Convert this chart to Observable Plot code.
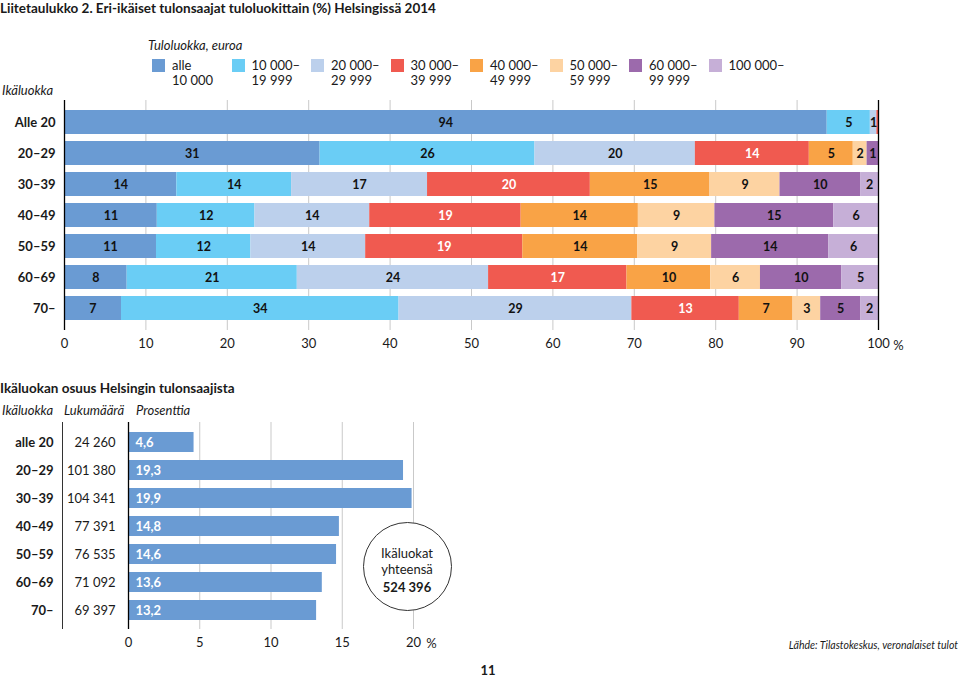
<!DOCTYPE html>
<html><head><meta charset="utf-8">
<script src="https://cdn.jsdelivr.net/npm/d3@7"></script>
<script src="https://cdn.jsdelivr.net/npm/@observablehq/plot@0.6"></script>
<style>
body{margin:0;background:#fff;font-family:Lato,"Open Sans",sans-serif;color:#1a1a1a}
#page{position:relative;width:960px;height:679px;overflow:hidden}
.abs{position:absolute;white-space:nowrap}
.plot{position:absolute;left:0}
</style></head><body><div id="page"></div>
<script>
// ---- Data: top chart ----
const titleText = "Liitetaulukko 2. Eri-ikäiset tulonsaajat tuloluokittain (%) Helsingissä 2014";
const ageGroups = ["Alle 20", "20–29", "30–39", "40–49", "50–59", "60–69", "70–"];
const incomeLine1 = ["alle", "10 000–", "20 000–", "30 000–", "40 000–", "50 000–", "60 000–", "100 000–"];
const incomeLine2 = ["10 000", "19 999", "29 999", "39 999", "49 999", "59 999", "99 999", ""];
const incomeColors = ["#6a9bd3", "#6acdf5", "#bcd0ec", "#f05a50", "#f9a346", "#fdd3a2", "#9c6aac", "#c6afd7"];
const sharesAlle20 = [93.7, 5.3, 0.8, 0.2, 0, 0, 0, 0];
const shares20_29  = [31.4, 26.4, 19.7, 14.0, 5.4, 1.7, 1.4, 0];
const shares30_39  = [13.8, 14.1, 16.7, 20.0, 14.7, 8.6, 9.9, 2.2];
const shares40_49  = [11.4, 12.0, 14.1, 18.6, 14.4, 9.4, 14.6, 5.5];
const shares50_59  = [11.3, 11.6, 14.1, 19.3, 14.1, 9.1, 14.4, 6.1];
const shares60_69  = [7.7, 20.9, 23.5, 17.0, 10.3, 6.1, 10.0, 4.6];
const shares70     = [7.0, 34.1, 28.6, 13.2, 6.6, 3.4, 4.9, 2.2];
const xTicksTop = [0, 10, 20, 30, 40, 50, 60, 70, 80, 90, 100];

// ---- Data: bottom chart ----
const lowerTitle = "Ikäluokan osuus Helsingin tulonsaajista";
const ageGroupsLower = ["alle 20", "20–29", "30–39", "40–49", "50–59", "60–69", "70–"];
const earnerCounts = [24260, 101380, 104341, 77391, 76535, 71092, 69397];
const earnerPercents = [4.6, 19.3, 19.9, 14.8, 14.6, 13.6, 13.2];
const xTicksBottom = [0, 5, 10, 15, 20];
const sourceText = "Lähde: Tilastokeskus, veronalaiset tulot";
const pageNumber = "11";

// ---- helpers ----
const loc = d3.formatLocale({decimal: ",", thousands: "\u00a0", grouping: [3], currency: ["", ""]});
const fmtInt = loc.format(",d");
const fmtDec = loc.format(".1f");
const page = document.getElementById("page");
function addText(txt, {x, y, size = 13, weight = "normal", italic = false, anchor = "start", color = "#1a1a1a", lh = null}) {
  const d = document.createElement("div");
  d.className = "abs";
  d.textContent = txt;
  const L = lh || Math.round(size * 1.25);
  d.style.fontSize = size + "px";
  d.style.lineHeight = L + "px";
  d.style.fontWeight = weight;
  d.style.fontStyle = italic ? "italic" : "normal";
  d.style.color = color;
  d.style.top = (y - L / 2) + "px";
  if (anchor === "start") d.style.left = x + "px";
  else if (anchor === "end") d.style.right = (960 - x) + "px";
  else { d.style.left = (x - 200) + "px"; d.style.width = "400px"; d.style.textAlign = "center"; }
  page.appendChild(d);
  return d;
}

// ---- Titles & legend ----
addText(titleText, {x: 0, y: 8, size: 13.5, weight: "bold"});
addText("Tuloluokka, euroa", {x: 148, y: 45, size: 13, italic: true});
addText("Ikäluokka", {x: 2, y: 90, size: 13, italic: true});
incomeLine1.forEach((t, i) => {
  const sx = 152 + 79.5 * i;
  const sw = document.createElement("div");
  sw.className = "abs";
  Object.assign(sw.style, {left: sx + "px", top: "59px", width: "13px", height: "13px", background: incomeColors[i]});
  page.appendChild(sw);
  addText(t, {x: sx + 20, y: 65, size: 13});
  if (incomeLine2[i]) addText(incomeLine2[i], {x: sx + 20, y: 80, size: 13});
});

// ---- Top chart ----
const shareRows = [sharesAlle20, shares20_29, shares30_39, shares40_49, shares50_59, shares60_69, shares70];
const segs = [];
ageGroups.forEach((age, i) => {
  let acc = 0;
  shareRows[i].forEach((v, j) => {
    segs.push({age, ci: j, cls: incomeLine1[j] + incomeLine2[j], value: v, x1: acc, x2: acc + v, label: Math.round(v)});
    acc += v;
  });
});
const labelled = segs.filter(d => d.label > 0);

const topChart = Plot.plot({
  width: 960, height: 270,
  marginLeft: 64, marginRight: 82, marginTop: 10, marginBottom: 30,
  style: {fontFamily: "Lato, 'Open Sans', sans-serif", fontSize: "13px", color: "#1a1a1a", background: "transparent"},
  x: {domain: [0, 100], label: null},
  y: {domain: ageGroups, padding: 0.24, label: null},
  color: {domain: segs.slice(0, 8).map(d => d.cls), range: incomeColors},
  marks: [
    Plot.gridX(xTicksTop.filter(t => t > 0 && t < 100), {stroke: "#c9c9c9", strokeOpacity: 1}),
    Plot.barX(segs.filter(d => d.value > 0), {x1: "x1", x2: "x2", y: "age", fill: "cls"}),
    Plot.text(labelled.filter(d => d.ci !== 3), {x: d => (d.x1 + d.x2) / 2, y: "age", text: "label", fill: "#111", fontWeight: "bold", fontSize: 12.5}),
    Plot.text(labelled.filter(d => d.ci === 3), {x: d => (d.x1 + d.x2) / 2, y: "age", text: "label", fill: "#fff", fontWeight: "bold", fontSize: 12.5}),
    Plot.ruleX([0, 100], {stroke: "#000", strokeWidth: 1.3}),
    Plot.axisX({ticks: xTicksTop, tickSize: 0, tickPadding: 8, fontSize: 13, label: null}),
    Plot.text(["%"], {x: [100], text: d => d, frameAnchor: "bottom", dy: 15, dx: 20, fontSize: 13, lineAnchor: "middle"}),
    Plot.axisY({tickSize: 0, tickPadding: 9, fontWeight: "bold", fontSize: 13, label: null})
  ]
});
topChart.classList.add("plot");
topChart.style.top = "90px";
page.appendChild(topChart);

// ---- Bottom chart ----
addText(lowerTitle, {x: 0, y: 388, size: 13.5, weight: "bold"});
addText("Ikäluokka", {x: 2, y: 410, size: 13, italic: true});
addText("Lukumäärä", {x: 64, y: 410, size: 13, italic: true});
addText("Prosenttia", {x: 136, y: 410, size: 13, italic: true});

const lower = ageGroupsLower.map((a, i) => ({age: a, count: earnerCounts[i], pct: earnerPercents[i]}));
const bottomChart = Plot.plot({
  width: 960, height: 250,
  marginLeft: 128, marginRight: 547, marginTop: 12, marginBottom: 31,
  style: {fontFamily: "Lato, 'Open Sans', sans-serif", fontSize: "13px", color: "#1a1a1a", background: "transparent"},
  x: {domain: [0, 20], label: null},
  y: {domain: ageGroupsLower, padding: 0.29, label: null},
  marks: [
    Plot.gridX(xTicksBottom.filter(t => t > 0), {stroke: "#c9c9c9", strokeOpacity: 1}),
    Plot.barX(lower, {x: "pct", y: "age", fill: "#6a9bd3"}),
    Plot.text(lower, {x: () => 0, y: "age", text: d => fmtDec(d.pct), fill: "#fff", fontWeight: "bold", fontSize: 13, textAnchor: "start", dx: 7}),
    Plot.text(lower, {x: () => 0, y: "age", text: d => fmtInt(d.count), fill: "#1a1a1a", fontSize: 13, textAnchor: "end", dx: -13}),
    Plot.ruleX([0], {stroke: "#000", strokeWidth: 1.3}),
    Plot.ruleX([0], {stroke: "#333", strokeWidth: 1, dx: -66}),
    Plot.axisX({ticks: xTicksBottom, tickSize: 0, tickPadding: 8, fontSize: 13, label: null}),
    Plot.text(["%"], {x: [20], text: d => d, frameAnchor: "bottom", dy: 14, dx: 18, fontSize: 13, lineAnchor: "middle"}),
    Plot.axisY({tickSize: 0, tickPadding: 75, fontWeight: "bold", fontSize: 13, label: null})
  ]
});
bottomChart.classList.add("plot");
bottomChart.style.top = "410px";
page.appendChild(bottomChart);

// ---- Total circle annotation ----
const circ = document.createElement("div");
circ.className = "abs";
Object.assign(circ.style, {left: "363px", top: "522px", width: "89px", height: "89px", border: "1px solid #333", borderRadius: "50%", boxSizing: "border-box", background: "#fff"});
page.appendChild(circ);
addText("Ikäluokat", {x: 407, y: 553, size: 13, anchor: "middle"});
addText("yhteensä", {x: 407, y: 569, size: 13, anchor: "middle"});
addText(fmtInt(d3.sum(earnerCounts)), {x: 407, y: 587, size: 13, weight: "bold", anchor: "middle"});

// ---- Footer ----
addText(sourceText, {x: 958, y: 645, size: 10.5, italic: true, anchor: "end"});
addText(pageNumber, {x: 488, y: 670, size: 13, weight: "bold", anchor: "middle", lh: 14});
</script></body></html>
